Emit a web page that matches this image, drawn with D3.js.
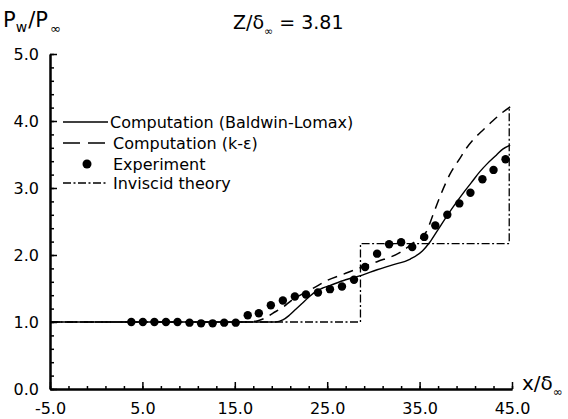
<!DOCTYPE html>
<html><head><meta charset="utf-8">
<script src="https://cdn.jsdelivr.net/npm/d3@7"></script>
<style>body{margin:0;background:#fff}svg{display:block}</style>
</head><body>
<svg id="c" width="568" height="419"></svg>
<script>
// ---- data ----
const expX = [3.8,5.05,6.3,7.55,8.8,10.1,11.35,12.6,13.85,15.1,16.4,17.6,18.9,20.2,21.5,22.7,24.0,25.3,26.6,27.9,29.1,30.4,31.7,33.0,34.2,35.5,36.7,38.0,39.3,40.5,41.8,43.0,44.3];
const expY = [1.0,1.0,1.0,1.0,1.0,0.99,0.98,0.98,0.99,0.99,1.10,1.13,1.25,1.32,1.38,1.41,1.44,1.49,1.53,1.63,1.82,2.02,2.16,2.19,2.12,2.27,2.44,2.60,2.77,2.93,3.13,3.27,3.43];
const blX = [-5,19.4,20.2,20.9,21.6,22.3,23.0,23.7,24.4,25.2,27.0,28.8,30.4,32.0,34.0,35.3,36.1,37.0,37.9,38.9,39.7,40.6,41.5,42.3,43.3,44.0,44.8];
const blY = [1.0,1.0,1.03,1.10,1.19,1.28,1.37,1.45,1.50,1.54,1.63,1.70,1.78,1.85,1.94,2.06,2.19,2.38,2.57,2.77,2.92,3.08,3.24,3.36,3.49,3.58,3.64];
const keX = [-5,16.5,17.5,18.3,19.1,20.2,21.2,22.5,23.7,25.0,26.5,28.0,30.4,32.9,34.3,35.7,36.45,37.2,38.3,39.4,40.1,41.0,41.9,42.9,43.9,44.8];
const keY = [1.0,1.0,1.02,1.06,1.13,1.22,1.33,1.43,1.52,1.62,1.70,1.78,1.90,2.04,2.18,2.34,2.60,2.87,3.21,3.45,3.60,3.75,3.87,4.0,4.12,4.21];
const invX = [-5,28.6,28.6,44.7,44.7];
const invY = [1.0,1.0,2.17,2.17,4.21];
const xTicks = [-5,5,15,25,35,45];
const yTicks = [0,1,2,3,4,5];
const legendLabels = ["Computation (Baldwin-Lomax)","Computation (k-\u03b5)","Experiment","Inviscid theory"];

const FONT = "DejaVu Sans, Liberation Sans, Arial, sans-serif";
const svg = d3.select("#c");
const x = d3.scaleLinear().domain([-5,45]).range([50,512]);
const y = d3.scaleLinear().domain([0,5]).range([389,54]);
const fmt = d => d.toFixed(1);

// axes
const xMinor = d3.range(-5,45.01,2);
const yMinor = d3.range(0,5.001,0.2);
const gx = svg.append("g").attr("transform",`translate(0,${y(0)})`);
gx.call(d3.axisBottom(x).tickValues(xMinor).tickSizeInner(-3).tickSizeOuter(0).tickFormat(""));
gx.append("g").call(d3.axisBottom(x).tickValues(xTicks).tickSizeInner(-7).tickSizeOuter(0).tickPadding(14).tickFormat(fmt));
const gy = svg.append("g").attr("transform",`translate(${x(-5)},0)`);
gy.call(d3.axisLeft(y).tickValues(yMinor).tickSizeInner(-4).tickSizeOuter(0).tickFormat(""));
gy.append("g").call(d3.axisLeft(y).tickValues(yTicks).tickSizeInner(-7).tickSizeOuter(0).tickPadding(11).tickFormat(fmt));
svg.selectAll(".domain").attr("stroke","#000").attr("stroke-width",2);
svg.selectAll(".tick line").attr("stroke","#000").attr("stroke-width",1.5);
svg.selectAll(".tick text").attr("font-family",FONT).attr("font-size",16).attr("fill","#000");

// lines
const line = (xs,ys,curve)=>d3.line().x((d,i)=>x(xs[i])).y((d,i)=>y(ys[i])).curve(curve)(xs);
svg.append("path").attr("d",line(invX,invY,d3.curveLinear)).attr("fill","none").attr("stroke","#000").attr("stroke-width",1.3).attr("stroke-dasharray","8,2.5,2,2.5");
svg.append("path").attr("d",line(blX,blY,d3.curveMonotoneX)).attr("fill","none").attr("stroke","#000").attr("stroke-width",1.4);
svg.append("path").attr("d",line(keX,keY,d3.curveMonotoneX)).attr("fill","none").attr("stroke","#000").attr("stroke-width",1.5).attr("stroke-dasharray","10,7");
svg.append("g").selectAll("circle").data(expX).join("circle")
  .attr("cx",(d)=>x(d)).attr("cy",(d,i)=>y(expY[i])).attr("r",4.2).attr("fill","#000");

// legend
const lg = svg.append("g");
const rows = [122,143,164,183];
lg.append("line").attr("x1",63).attr("x2",108).attr("y1",rows[0]).attr("y2",rows[0]).attr("stroke","#000").attr("stroke-width",1.4);
lg.append("line").attr("x1",63).attr("x2",108).attr("y1",rows[1]).attr("y2",rows[1]).attr("stroke","#000").attr("stroke-width",1.5).attr("stroke-dasharray","17,8");
lg.append("circle").attr("cx",87).attr("cy",rows[2]).attr("r",4.5).attr("fill","#000");
lg.append("line").attr("x1",63).attr("x2",108).attr("y1",rows[3]).attr("y2",rows[3]).attr("stroke","#000").attr("stroke-width",1.3).attr("stroke-dasharray","8,2.5,2,2.5");
lg.selectAll("text").data(legendLabels).join("text")
  .attr("x",(d,i)=>i===0?110:113).attr("y",(d,i)=>rows[i]+6)
  .attr("font-family",FONT).attr("font-size",16).text(d=>d);

// titles
const t1 = svg.append("text").attr("x",3).attr("y",27).attr("font-family",FONT).attr("font-size",21);
t1.append("tspan").text("P");
t1.append("tspan").attr("font-size",14).attr("dy",5).text("w");
t1.append("tspan").attr("dy",-5).attr("dx",1).text("/P");
t1.append("tspan").attr("font-size",13).attr("dy",6).attr("dx",2).text("\u221e");
const t2 = svg.append("text").attr("x",233).attr("y",29).attr("font-family",FONT).attr("font-size",19);
t2.append("tspan").text("Z/\u03b4");
t2.append("tspan").attr("font-size",11).attr("dy",6).text("\u221e");
t2.append("tspan").attr("dy",-6).text(" = 3.81");
const t3 = svg.append("text").attr("x",522).attr("y",390).attr("font-family",FONT).attr("font-size",20);
t3.append("tspan").text("x/\u03b4");
t3.append("tspan").attr("font-size",12).attr("dy",6).text("\u221e");
</script>
</body></html>
